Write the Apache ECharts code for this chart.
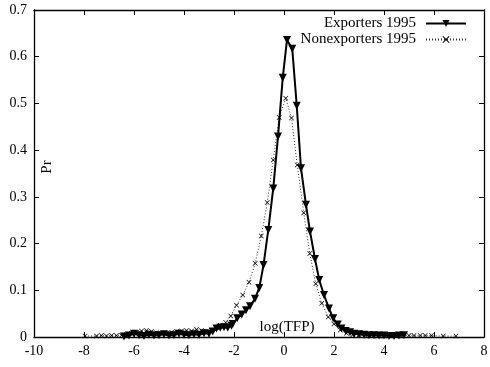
<!DOCTYPE html>
<html>
<head>
<meta charset="utf-8">
<script src="https://cdn.jsdelivr.net/npm/echarts@6/dist/echarts.min.js"></script>
<style>
  html, body { margin: 0; padding: 0; background: #fff; }
  #main { width: 490px; height: 367px; }
</style>
</head>
<body>
<div id="main"></div>
<script>
  // log(TFP) positions and densities
  var expX = [-6.4, -6.2, -6.0, -5.8, -5.6, -5.4, -5.2, -5.0, -4.8, -4.6, -4.4, -4.2, -4.0, -3.8, -3.6, -3.4, -3.2, -3.0,
    -2.85, -2.7, -2.55, -2.4, -2.25, -2.1, -2.05, -1.87, -1.69, -1.52, -1.36, -1.16, -0.99, -0.82, -0.63, -0.43, -0.24, -0.05,
    0.12, 0.33, 0.51, 0.68, 0.88, 1.04, 1.24, 1.41, 1.6, 1.8, 1.97, 2.15, 2.3, 2.47, 2.64, 2.8, 3.0, 3.2, 3.4, 3.6, 3.8,
    4.0, 4.2, 4.4, 4.6, 4.8];
  var expY = [0.001, 0.003, 0.007, 0.004, 0.002, 0.005, 0.003, 0.004, 0.006, 0.003, 0.004, 0.007, 0.005, 0.004, 0.006, 0.005, 0.008, 0.007,
    0.012, 0.018, 0.020, 0.021, 0.020, 0.024, 0.028, 0.040, 0.048, 0.057, 0.066, 0.082, 0.105, 0.154, 0.229, 0.318, 0.429, 0.555,
    0.636, 0.617, 0.495, 0.361, 0.283, 0.226, 0.167, 0.122, 0.090, 0.061, 0.040, 0.027, 0.018, 0.013, 0.010, 0.007, 0.006, 0.005, 0.004, 0.004, 0.003,
    0.003, 0.002, 0.002, 0.003, 0.004];

  var nonX = [-7.96, -7.5, -7.3, -7.1, -6.9, -6.7, -6.5, -6.3, -6.1, -5.9, -5.7, -5.5, -5.3, -5.1, -4.9, -4.7, -4.5, -4.3, -4.1,
    -3.9, -3.7, -3.5, -3.3, -3.1, -2.9, -2.7, -2.55, -2.33, -2.13, -1.9, -1.65, -1.4, -1.15, -0.91, -0.67, -0.43, -0.19,
    0.07, 0.3, 0.53, 0.79, 1.03, 1.27, 1.51, 1.77, 2.0, 2.25, 2.5, 2.75, 3.0, 3.25, 3.5, 3.75, 4.0, 4.25, 4.5, 4.75,
    5.0, 5.2, 5.45, 5.65, 5.9, 6.37, 6.88];
  var nonY = [0.002, 0.002, 0.003, 0.002, 0.003, 0.003, 0.004, 0.005, 0.008, 0.010, 0.013, 0.014, 0.012, 0.009, 0.007, 0.008, 0.010, 0.012, 0.013,
    0.014, 0.013, 0.016, 0.014, 0.012, 0.014, 0.020, 0.025, 0.031, 0.045, 0.068, 0.090, 0.117, 0.158, 0.216, 0.288, 0.379, 0.470,
    0.511, 0.469, 0.368, 0.266, 0.179, 0.114, 0.072, 0.043, 0.028, 0.015, 0.008, 0.005, 0.004, 0.003, 0.003, 0.002, 0.002, 0.003, 0.002, 0.003,
    0.003, 0.003, 0.003, 0.003, 0.003, 0.002, 0.002];

  var seriesNames = ['Exporters 1995', 'Nonexporters 1995'];

  function pairs(xs, ys) {
    var out = [];
    for (var i = 0; i < xs.length; i++) out.push([xs[i], ys[i]]);
    return out;
  }

  var font = 'Liberation Serif';
  var crossPath = 'path://M0,1L1,0L5,4L9,0L10,1L6,5L10,9L9,10L5,6L1,10L0,9L4,5Z';

  var myChart = echarts.init(document.getElementById('main'));
  var tick = { show: true, inside: true, length: 5, lineStyle: { color: '#000', width: 1 } };
  var line = { show: true, onZero: false, lineStyle: { color: '#000', width: 1.3 } };
  var option = {
    backgroundColor: '#fff',
    animation: false,
    grid: { left: 34, right: 6, top: 10, bottom: 30, containLabel: false, outerBoundsMode: 'none' },
    legend: {
      orient: 'vertical',
      right: 23,
      top: 16,
      padding: 0,
      align: 'right',
      itemWidth: 40,
      itemHeight: 9,
      itemGap: 1,
      textStyle: { fontFamily: font, fontSize: 15, lineHeight: 14, color: '#000', padding: [0, 5, 0, 0] },
      data: seriesNames
    },
    xAxis: [{
      type: 'value', min: -10, max: 8, interval: 2,
      axisLine: line, axisTick: tick, splitLine: { show: false },
      axisLabel: { fontFamily: font, fontSize: 14, color: '#000', margin: 7 }
    }, {
      type: 'value', position: 'top', min: -10, max: 8, interval: 2,
      axisLine: line, axisTick: tick, splitLine: { show: false },
      axisLabel: { show: false }
    }],
    yAxis: [{
      type: 'value', min: 0, max: 0.7, interval: 0.1,
      axisLine: line, axisTick: tick, splitLine: { show: false },
      axisLabel: { fontFamily: font, fontSize: 14, color: '#000', margin: 7 }
    }, {
      type: 'value', position: 'right', min: 0, max: 0.7, interval: 0.1,
      axisLine: line, axisTick: tick, splitLine: { show: false },
      axisLabel: { show: false }
    }],
    graphic: [{
      type: 'text', x: 287, y: 327,
      style: { text: 'log(TFP)', font: '15px "Liberation Serif"', fill: '#000', textAlign: 'center', textVerticalAlign: 'middle' }
    }, {
      type: 'text', x: 47, y: 167, rotation: Math.PI / 2,
      style: { text: 'Pr', font: '15px "Liberation Serif"', fill: '#000', textAlign: 'center', textVerticalAlign: 'middle' }
    }],
    series: [{
      name: seriesNames[0],
      type: 'line',
      data: pairs(expX, expY),
      symbol: 'triangle',
      symbolRotate: 180,
      symbolSize: 8,
      showAllSymbol: true,
      lineStyle: { color: '#000', width: 2 },
      itemStyle: { color: '#000' },
      z: 3
    }, {
      name: seriesNames[1],
      type: 'line',
      data: pairs(nonX, nonY),
      symbol: crossPath,
      symbolSize: 5,
      showAllSymbol: true,
      lineStyle: { color: '#333', width: 1, type: [1, 2] },
      itemStyle: { color: '#000' },
      z: 2
    }]
  };
  myChart.setOption(option);
</script>
</body>
</html>
